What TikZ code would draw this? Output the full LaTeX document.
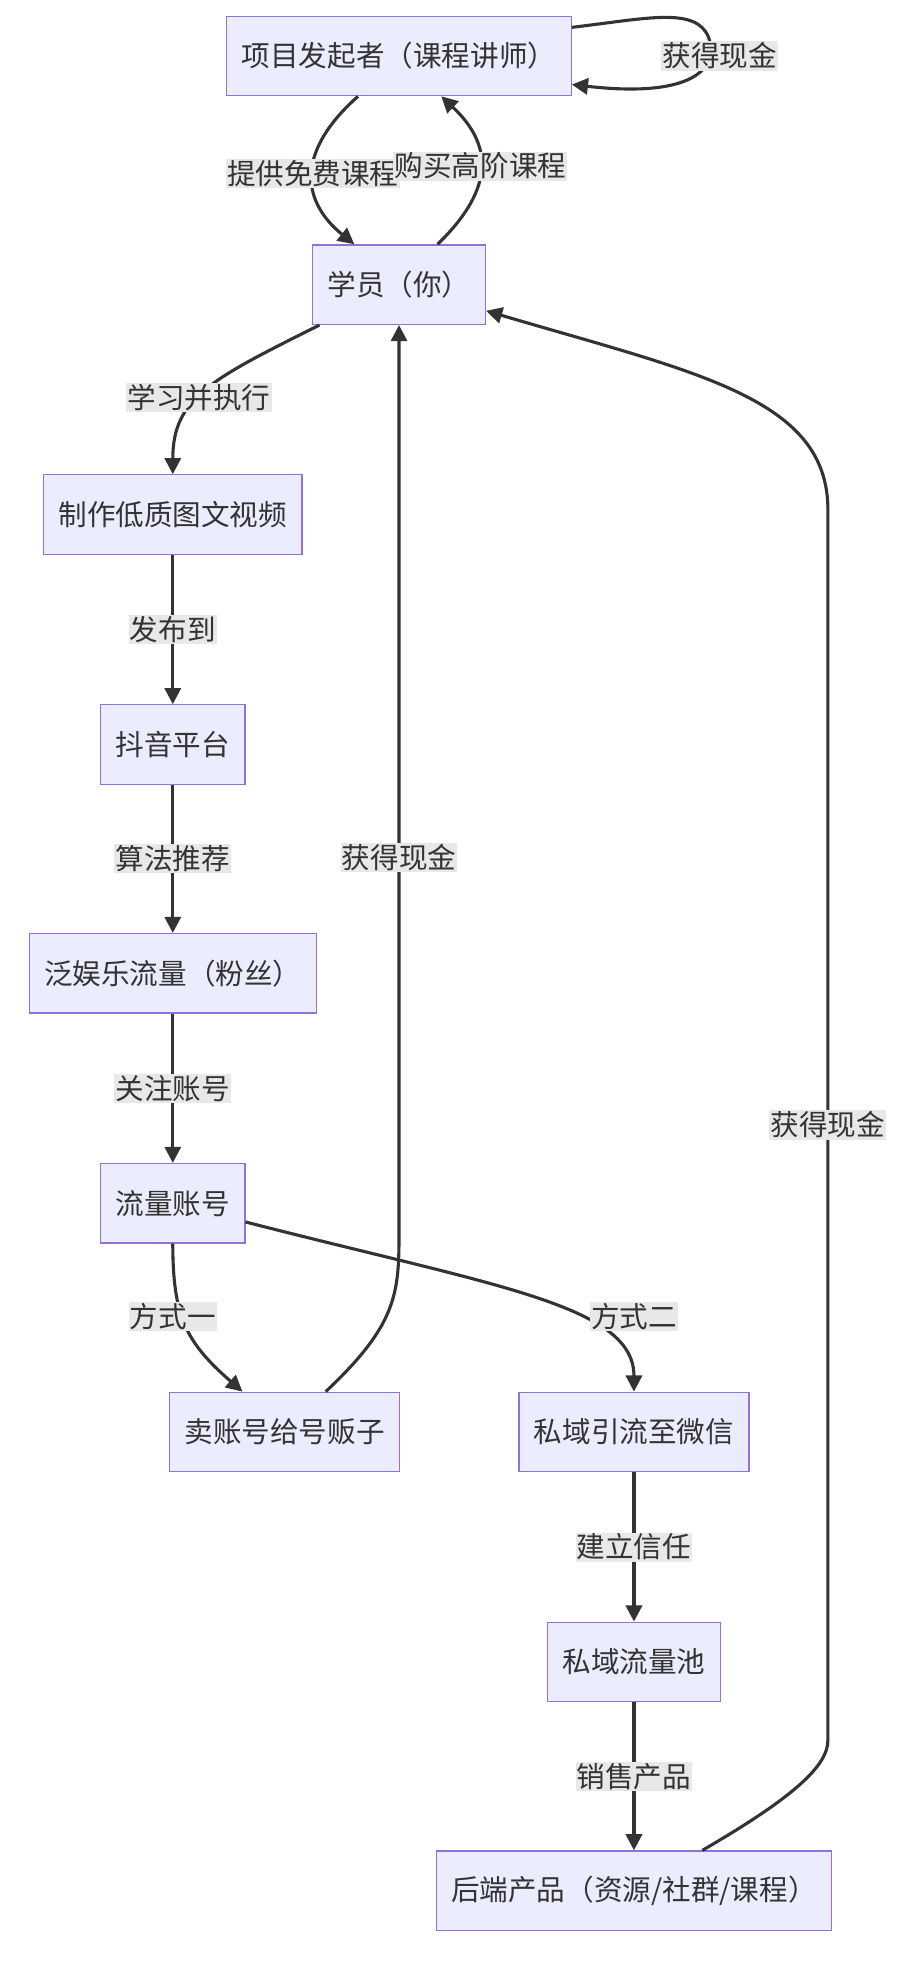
\documentclass[tikz,border=0pt]{standalone}
\usepackage{fontspec}
\setmainfont{Noto Sans CJK SC}
\usetikzlibrary{positioning, arrows.meta}
\definecolor{boxfill}{HTML}{ECECFF}
\definecolor{boxline}{HTML}{9370DB}
\definecolor{ink}{HTML}{333333}
\definecolor{lblbg}{HTML}{E8E8E8}

\begin{document}
\begin{tikzpicture}
	[x=1pt, y=-1pt, font=\fontsize{23}{27}\selectfont, text=ink,
	 box/.style={draw=boxline, fill=boxfill, line width=1pt, minimum height=64pt, inner xsep=12pt},
	 flow/.style={draw=ink, line width=2.5pt, -{Triangle[length=13pt,width=13pt]}},
	 lbl/.style={fill=lblbg, inner sep=1pt, text=ink}]
   \useasboundingbox (0,0) rectangle (740,1588);
   \node[box] (teacher) at (321,45)  {项目发起者（课程讲师）};
   \node[box] (student) at (321,229) {学员（你）};
   \node[box] (video)   at (139,414) {制作低质图文视频};
   \node[box] (douyin)  at (139,599) {抖音平台};
   \node[box] (fans)    at (139,783) {泛娱乐流量（粉丝）};
   \node[box] (account) at (139,968) {流量账号};
   \node[box] (dealer)  at (229,1152) {卖账号给号贩子};
   \node[box] (wechat)  at (510,1152) {私域引流至微信};
   \node[box] (pool)    at (510,1337) {私域流量池};
   \node[box] (backend) at (510,1521) {后端产品（资源/社群/课程）};
   \coordinate (bend1) at (666,1400);
   \coordinate (bend2) at (666,410);

   % loop on the teacher
   \draw[flow] (teacher.east |- 0,22) .. controls (520,15) and (560,5) .. (570,30)
      .. controls (578,50) and (565,80) .. (teacher.east |- 0,68);
   \node[lbl] at (579,45) {获得现金};

   \draw[flow] (teacher.south -| 288,0) .. controls (240,120) and (240,160) .. (student.north -| 285,0)
      node[lbl, pos=0.5] {提供免费课程};
   \draw[flow] (student.north -| 352,0) .. controls (400,150) and (395,115) .. (teacher.south -| 355,0)
      node[lbl, pos=0.5] {购买高阶课程};
   \draw[flow] (student.south -| 257,0) .. controls (170,305) and (139,320) .. (video.north)
      node[lbl, pos=0.55] {学习并执行};
   \draw[flow] (video) -- (douyin) node[lbl, midway] {发布到};
   \draw[flow] (douyin) -- (fans) node[lbl, midway] {算法推荐};
   \draw[flow] (fans) -- (account) node[lbl, midway] {关注账号};
   \draw[flow] (account.south) .. controls (139,1060) and (150,1080) .. (dealer.north -| 195,0);
   \node[lbl] at (139,1059) {方式一};
   \draw[flow] (account.east |- 0,983) .. controls (400,1035) and (510,1050) .. (wechat.north);
   \node[lbl] at (510,1059) {方式二};
   \draw[flow] (dealer.north -| 262,0) .. controls (320,1065) and (321,1040) .. (321,990)
      -- (student.south);
   \node[lbl] at (321,690) {获得现金};
   \draw[flow] (wechat) -- (pool) node[lbl, midway] {建立信任};
   \draw[flow] (pool) -- (backend) node[lbl, midway] {销售产品};
   \draw[flow] (backend.north -| 565,0) .. controls (640,1445) and (666,1420) .. (bend1)
      -- (bend2) node[lbl, midway] {获得现金}
      .. controls (666,320) and (560,300) .. (student.east |- 0,250);
\end{tikzpicture}
\end{document}
